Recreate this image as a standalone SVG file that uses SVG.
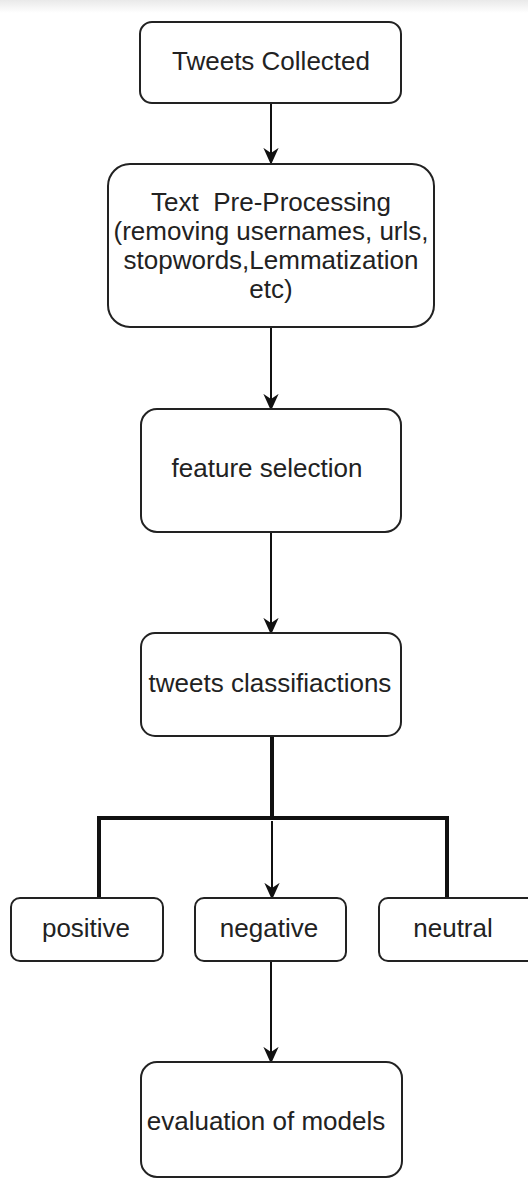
<svg xmlns="http://www.w3.org/2000/svg" width="528" height="1178" viewBox="0 0 528 1178">
<defs>
<linearGradient id="band" x1="0" y1="0" x2="0" y2="1">
<stop offset="0" stop-color="#e9e9e9"/>
<stop offset="1" stop-color="#ffffff"/>
</linearGradient>
<marker id="arr" viewBox="0 0 20 20" refX="19" refY="10" markerWidth="17" markerHeight="17" markerUnits="userSpaceOnUse" orient="auto">
<path d="M0,1 L20,10 L0,19 L6,10 Z" fill="#111"/>
</marker>
<style>
.box{fill:#fff;stroke:#222;stroke-width:2}
.lbl{font-family:"Liberation Sans",Arial,sans-serif;font-size:26px;fill:#222;text-anchor:middle}
.thin{stroke:#111;stroke-width:2;fill:none}
.thick{stroke:#111;stroke-width:4;fill:none}
</style>
</defs>
<rect x="0" y="0" width="528" height="1178" fill="#fff"/>
<rect x="0" y="0" width="528" height="13" fill="url(#band)"/>
<g id="connectors">
<line class="thin" x1="271" y1="104" x2="271" y2="164" marker-end="url(#arr)"/>
<line class="thin" x1="271" y1="327" x2="271" y2="410" marker-end="url(#arr)"/>
<line class="thin" x1="271" y1="532" x2="271" y2="634" marker-end="url(#arr)"/>
<polyline class="thick" points="272,736 272,818"/>
<polyline class="thick" points="99,898 99,818 447,818 447,898"/>
<line class="thin" x1="272" y1="821" x2="272" y2="899" marker-end="url(#arr)"/>
<line class="thin" x1="271" y1="961" x2="271" y2="1063" marker-end="url(#arr)"/>
</g>
<g id="n1"><rect class="box" x="140" y="22" width="261" height="81" rx="12"/><text class="lbl" x="271" y="70">Tweets Collected</text></g>
<g id="n2"><rect class="box" x="108" y="164" width="326" height="163" rx="22"/>
<text class="lbl" x="271" y="211" xml:space="preserve">Text  Pre-Processing</text>
<text class="lbl" x="271" y="240">(removing usernames, urls,</text>
<text class="lbl" x="271" y="269">stopwords,Lemmatization</text>
<text class="lbl" x="271" y="298">etc)</text></g>
<g id="n3"><rect class="box" x="141" y="409" width="260" height="123" rx="16"/><text class="lbl" x="267" y="477">feature selection</text></g>
<g id="n4"><rect class="box" x="141" y="633" width="260" height="103" rx="14"/><text class="lbl" x="270" y="692">tweets classifiactions</text></g>
<g id="n5"><rect class="box" x="11" y="898" width="152" height="63" rx="9"/><text class="lbl" x="86" y="937">positive</text></g>
<g id="n6"><rect class="box" x="195" y="898" width="151" height="63" rx="9"/><text class="lbl" x="269" y="937">negative</text></g>
<g id="n7"><rect class="box" x="379" y="898" width="160" height="63" rx="9"/><text class="lbl" x="453" y="937">neutral</text></g>
<g id="n8"><rect class="box" x="141" y="1062" width="261" height="115" rx="16"/><text class="lbl" x="266" y="1130">evaluation of models</text></g>
</svg>
